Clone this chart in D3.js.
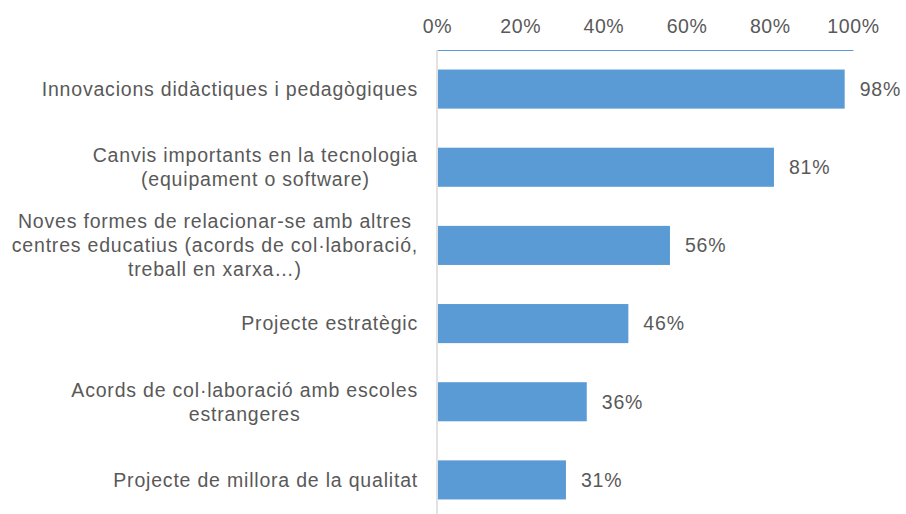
<!DOCTYPE html>
<html>
<head>
<meta charset="utf-8">
<script src="https://cdn.jsdelivr.net/npm/d3@7"></script>
<style>
  body { margin: 0; background: #fff; }
  text { font-family: "Liberation Sans", Arial, sans-serif; }
</style>
</head>
<body>
<svg id="chart" width="906" height="514"></svg>
<script>
// Categories (each entry split into display lines) and their shares
const categories = [
  ["Innovacions didàctiques i pedagògiques"],
  ["Canvis importants en la tecnologia", "(equipament o software)"],
  ["Noves formes de relacionar-se amb altres", "centres educatius (acords de col·laboració,", "treball en xarxa…)"],
  ["Projecte estratègic"],
  ["Acords de col·laboració amb escoles", "estrangeres"],
  ["Projecte de millora de la qualitat"]
];
const values = [98, 81, 56, 46, 36, 31];
const tickValues = [0, 20, 40, 60, 80, 100];

const svg = d3.select("#chart");
const margin = { left: 437, right: 53, top: 50, bottom: -5 };
const W = 906, H = 514;
const fontSize = 19.5;
const spacing = "0.8px";
const textColor = "#595959";

const x = d3.scaleLinear().domain([0, 100]).range([margin.left, W - margin.right]);
const y = d3.scaleBand()
  .domain(d3.range(categories.length))
  .range([margin.top, H - margin.bottom])
  .paddingInner(0.5)
  .paddingOuter(0.25);

// Top axis with percentage ticks
const xAxis = d3.axisTop(x).tickValues(tickValues).tickFormat(d => d + "%").tickSize(0).tickPadding(17);
const gx = svg.append("g").attr("transform", `translate(0,${margin.top})`).call(xAxis);
gx.select(".domain").attr("stroke", "#5B9BD5").attr("stroke-width", 1.2);
gx.selectAll("text").attr("font-size", fontSize).attr("fill", textColor)
  .attr("letter-spacing", "0.6px")
  .attr("font-family", "'Liberation Sans', Arial, sans-serif");

// Category baseline
svg.append("line")
  .attr("x1", x(0)).attr("x2", x(0))
  .attr("y1", margin.top).attr("y2", H)
  .attr("stroke", "#d9d9d9").attr("stroke-width", 1.5);

// Bars
svg.append("g").selectAll("rect").data(values).join("rect")
  .attr("x", x(0) + 1)
  .attr("y", (d, i) => y(i))
  .attr("width", d => x(d) - x(0) - 1)
  .attr("height", y.bandwidth())
  .attr("fill", "#5B9BD5");

// Value labels
svg.append("g").selectAll("text").data(values).join("text")
  .attr("x", d => x(d) + 15)
  .attr("y", (d, i) => y(i) + y.bandwidth() / 2)
  .attr("dy", "0.35em")
  .attr("font-size", fontSize)
  .attr("letter-spacing", spacing)
  .attr("fill", textColor)
  .text(d => d + "%");

// Category labels, centred lines right-aligned as a block
const lineH = 24;
const labels = svg.append("g").selectAll("text").data(categories).join("text")
  .attr("text-anchor", "middle")
  .attr("font-size", fontSize)
  .attr("letter-spacing", spacing)
  .attr("fill", textColor);
labels.each(function (lines, i) {
  const t = d3.select(this);
  const cy = y(i) + y.bandwidth() / 2;
  const y0 = cy - (lines.length - 1) * lineH / 2;
  lines.forEach((ln, k) => {
    t.append("tspan").attr("x", 0).attr("y", y0 + k * lineH).attr("dy", "0.35em").text(ln);
  });
  // align block so its right edge sits left of the baseline
  const w = this.getBBox().width;
  t.attr("transform", `translate(${418 - w / 2},0)`);
});
</script>
</body>
</html>
